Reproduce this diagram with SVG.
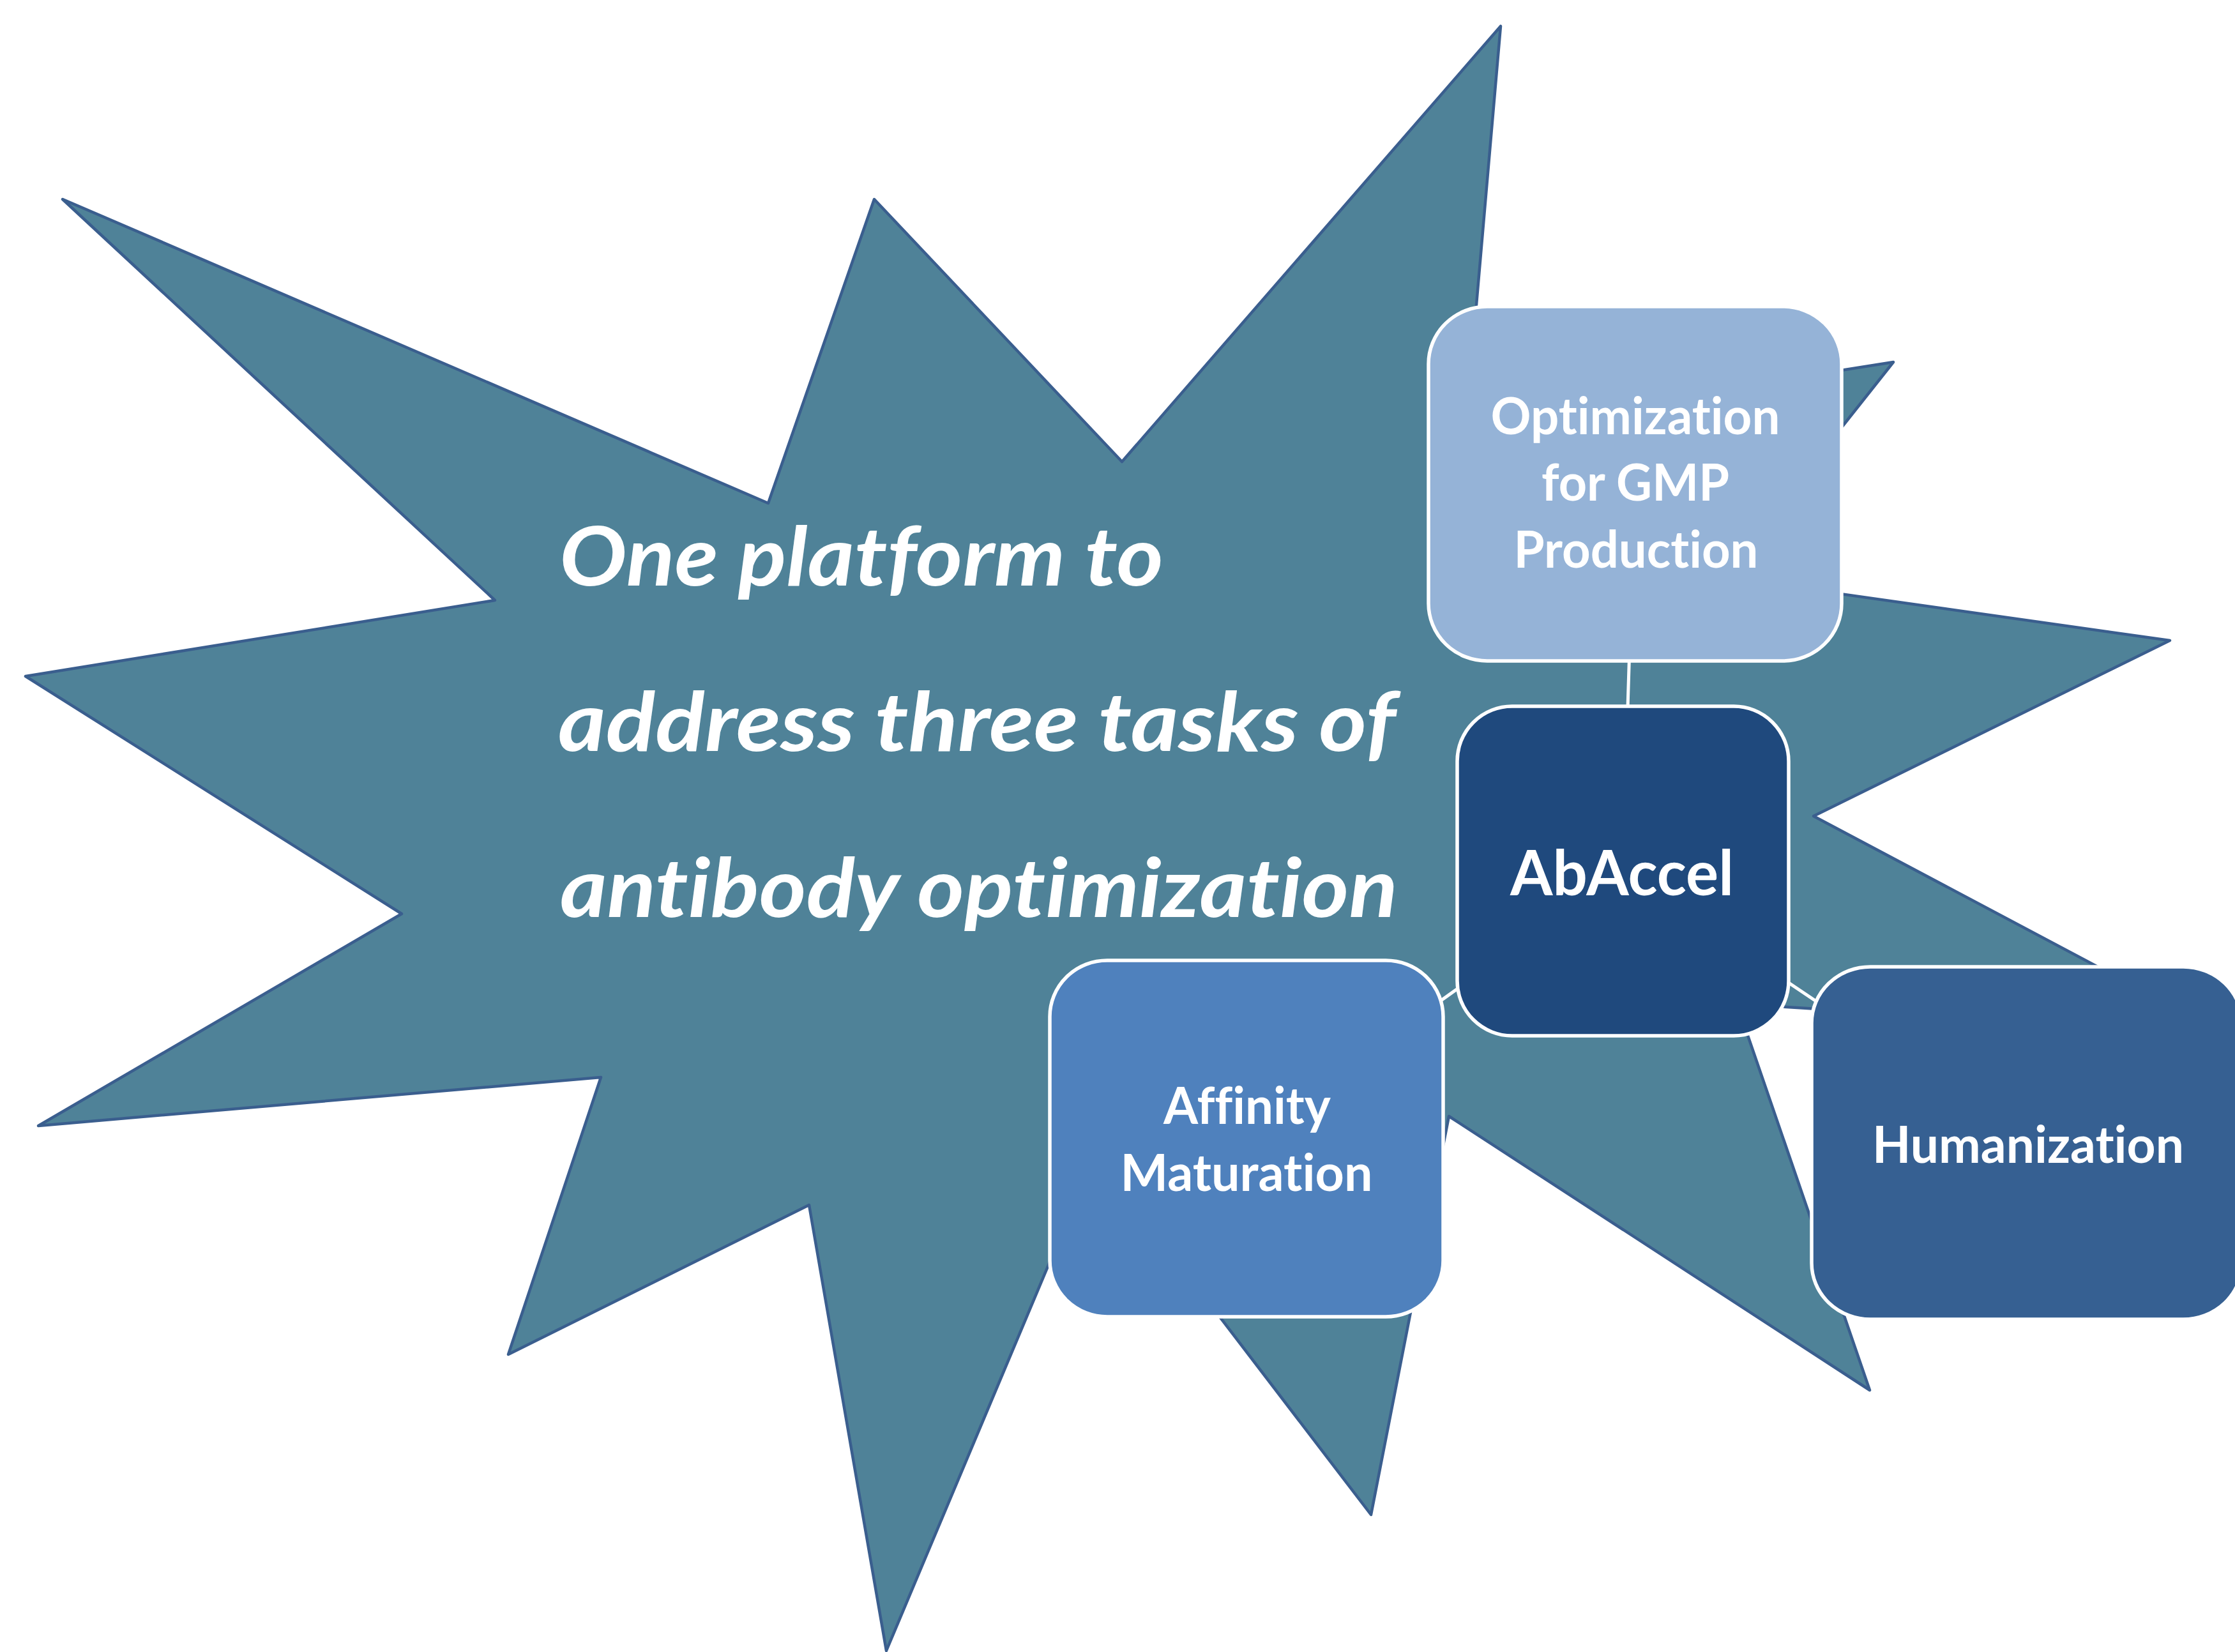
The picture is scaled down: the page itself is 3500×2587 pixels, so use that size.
<svg xmlns="http://www.w3.org/2000/svg" width="3500" height="2587" viewBox="0 0 3500 2587">
  <style>
    .burst { fill: #4F8298; stroke: #3A5E8E; stroke-width: 4.5; stroke-linejoin: round; }
    .box { stroke: #FFFFFF; stroke-width: 5.5; }
    .link { stroke: #FFFFFF; stroke-width: 5; fill: none; }
    text { font-variant-ligatures: none; font-feature-settings: "liga" 0, "clig" 0, "dlig" 0; }
    .label { font-family: Lato, "Open Sans", "DejaVu Sans", sans-serif; font-weight: 700; fill: #FFFFFF; text-anchor: middle; }
    .headline { font-family: Lato, "Open Sans", "DejaVu Sans", sans-serif; font-weight: 700; font-style: italic; fill: #FFFFFF; font-size: 128px; }
  </style>

  <!-- explosion shape behind everything -->
  <g id="starburst">
    <polygon class="burst" points="2928,2177 2269,1748 2147,2372 1715,1807 1388,2585 1267,1887 796,2121 941,1687 60,1763 629,1431 40,1059 775,940 98,312 1203,788 1369,312 1757,723 2350,41 2295,673 2965,567 2698,904 3398,1003 2840,1278 3485,1620 2720,1572"/>
  </g>

  <g id="headline">
    <text class="headline" x="876" y="917" textLength="946" lengthAdjust="spacingAndGlyphs">One platform to</text>
    <text class="headline" x="874" y="1176" textLength="1312" lengthAdjust="spacingAndGlyphs">address three tasks of</text>
    <text class="headline" x="877" y="1436" textLength="1312" lengthAdjust="spacingAndGlyphs">antibody optimization</text>
  </g>

  <!-- hub-and-spoke connectors -->
  <g id="connectors">
    <line class="link" x1="2541" y1="1364" x2="2560" y2="757"/>
    <line class="link" x1="2541" y1="1364" x2="1952" y2="1784"/>
    <line class="link" x1="2541" y1="1364" x2="3174" y2="1790"/>
  </g>

  <g id="node-gmp">
    <rect class="box" x="2237" y="480" width="647" height="555" rx="92" ry="90" fill="#95B3D7"/>
    <text class="label" x="2561" y="680" font-size="80" textLength="453" lengthAdjust="spacingAndGlyphs">Optimization</text>
    <text class="label" x="2561" y="784" font-size="80" textLength="294" lengthAdjust="spacingAndGlyphs">for GMP</text>
    <text class="label" x="2562" y="889" font-size="80" textLength="383" lengthAdjust="spacingAndGlyphs">Production</text>
  </g>

  <g id="node-abaccel">
    <rect class="box" x="2282" y="1106" width="519" height="516" rx="86" ry="86" fill="#1F497D"/>
    <text class="label" x="2540" y="1402" font-size="98" textLength="350" lengthAdjust="spacingAndGlyphs">AbAccel</text>
  </g>

  <g id="node-affinity">
    <rect class="box" x="1644" y="1504" width="616" height="558" rx="90" ry="88" fill="#4F81BD"/>
    <text class="label" x="1953" y="1760" font-size="80" textLength="262" lengthAdjust="spacingAndGlyphs">Affinity</text>
    <text class="label" x="1952" y="1865" font-size="80" textLength="395" lengthAdjust="spacingAndGlyphs">Maturation</text>
  </g>

  <g id="node-humanization">
    <rect class="box" x="2837" y="1514" width="674" height="552" rx="92" ry="88" fill="#366092"/>
    <text class="label" x="3176" y="1821" font-size="80" textLength="488" lengthAdjust="spacingAndGlyphs">Humanization</text>
  </g>
</svg>
